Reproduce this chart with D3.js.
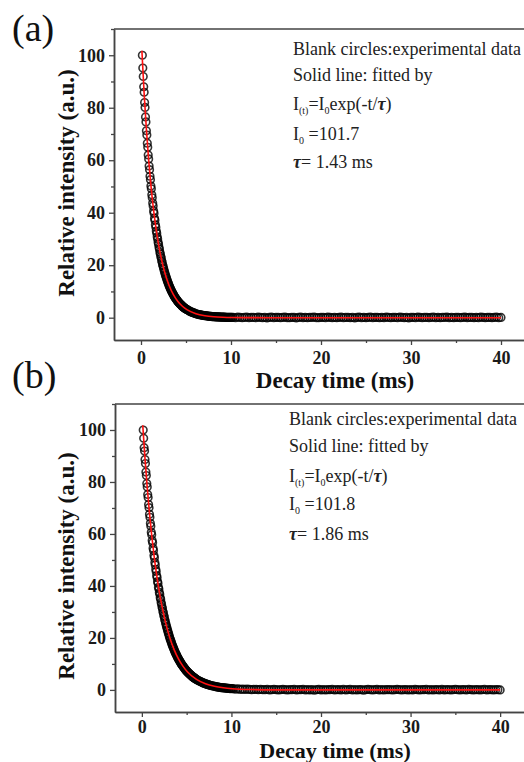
<!DOCTYPE html>
<html><head><meta charset="utf-8">
<script src="https://cdn.jsdelivr.net/npm/d3@7"></script>
<style>body{margin:0;background:#fff}svg{display:block}</style>
</head><body><svg id="c" width="524" height="762"></svg>
<script>
// ---------- data ----------
const xMajor = [0, 10, 20, 30, 40];
const xMinor = [5, 15, 25, 35];
const yMajor = [0, 20, 40, 60, 80, 100];
const yMinor = [10, 30, 50, 70, 90, 110];
const panelLabels = ["(a)", "(b)"];
const xTitle = "Decay time (ms)";
const yTitle = "Relative intensity (a.u.)";
const I0Values = ["101.7", "101.8"];
const tauValues = ["1.43", "1.86"];

// sampling of experimental points: start time and step of each segment
const segSteps = [0.05, 0.1, 0.25];
const segStartsA = [0.15, 5.2, 10.25];
const segStartsB = [0.15, 6.2, 10.25];

// (a) experimental data
const expA_fast = [
100.0,95.1,91.9,88.0,85.9,82.0,80.1,76.5,74.6,71.2,
69.6,66.5,64.9,62.0,60.5,57.8,56.4,53.9,52.6,50.2,
49.1,46.8,45.7,43.7,42.6,40.7,39.8,37.9,37.1,35.4,
34.5,33.0,32.2,30.8,30.0,28.7,28.0,26.8,26.1,24.9,
24.3,23.3,22.7,21.7,21.1,20.2,19.7,18.9,18.4,17.6,
17.1,16.4,16.0,15.3,14.9,14.3,13.9,13.3,13.0,12.4,
12.1,11.6,11.2,10.8,10.5,10.1,9.8,9.4,9.1,8.8,
8.5,8.2,7.9,7.6,7.4,7.1,6.9,6.6,6.4,6.2,
6.0,5.8,5.6,5.4,5.2,5.0,4.9,4.7,4.5,4.4,
4.2,4.1,3.9,3.8,3.7,3.5,3.4,3.3,3.2,3.1];
const expA_mid = [
2.9,2.7,2.5,2.3,2.2,2.0,1.9,1.8,1.6,1.5,
1.4,1.3,1.2,1.2,1.1,1.0,0.9,0.9,0.8,0.8,
0.7,0.7,0.6,0.6,0.5,0.5,0.5,0.4,0.4,0.4,
0.4,0.3,0.3,0.3,0.3,0.3,0.2,0.2,0.2,0.2,
0.2,0.2,0.1,0.1,0.1,0.1,0.1,0.1,0.1,0.1];
const expA_tail = [
0.1,0.0,0.2,0.1,0.0,0.1,0.2,0.0,0.1,0.1,
0.0,0.2,0.1,0.0,0.1,-0.1,0.1,0.2,0.0,0.1,
0.1,0.0,0.1,0.2,0.0,0.0,0.1,0.1,-0.1,0.1,
0.2,0.0,0.1,0.0,0.1,0.1,0.2,0.0,0.0,0.1,
0.1,0.0,0.2,0.1,0.0,0.1,0.0,0.1,0.2,0.0,
0.1,0.1,0.0,0.1,-0.1,0.1,0.2,0.0,0.1,0.0,
0.1,0.2,0.0,0.1,0.1,0.0,0.1,0.0,0.2,0.1,
0.0,0.1,0.1,0.0,0.2,0.1,0.0,0.1,-0.1,0.1,
0.1,0.0,0.2,0.1,0.0,0.1,0.1,0.0,0.1,0.2,
0.0,0.1,0.0,0.1,0.1,0.2,0.0,0.1,0.0,0.1,
0.1,0.0,0.1,0.2,0.0,0.1,0.1,0.0,0.1,0.0,
0.2,0.1,0.0,0.1,0.1,0.0,0.1,0.2,0.0,0.1];

// (b) experimental data
const expB_fast = [
100.0,96.8,93.2,91.9,88.6,87.1,83.8,82.5,79.4,78.1,
75.2,74.0,71.3,70.1,67.6,66.4,64.1,63.0,60.7,59.7,
57.5,56.6,54.5,53.6,51.7,50.8,49.0,48.1,46.4,45.6,
44.0,43.2,41.7,41.0,39.5,38.8,37.5,36.8,35.5,34.9,
33.6,33.0,31.9,31.3,30.2,29.7,28.6,28.1,27.1,26.6,
25.7,25.2,24.4,23.9,23.1,22.7,21.9,21.5,20.7,20.3,
19.6,19.3,18.6,18.3,17.6,17.3,16.7,16.4,15.8,15.5,
15.0,14.7,14.2,13.9,13.5,13.2,12.8,12.5,12.1,11.9,
11.5,11.2,10.9,10.7,10.3,10.1,9.8,9.6,9.3,9.1,
8.8,8.6,8.3,8.1,7.9,7.7,7.5,7.3,7.1,6.9,
6.7,6.6,6.4,6.2,6.0,5.9,5.7,5.6,5.4,5.3,
5.1,5.0,4.9,4.7,4.6,4.5,4.4,4.3,4.1,4.0];
const expB_mid = [
3.8,3.6,3.4,3.3,3.1,2.9,2.8,2.6,2.5,2.4,
2.2,2.1,2.0,1.9,1.8,1.7,1.6,1.5,1.5,1.4,
1.3,1.2,1.2,1.1,1.0,1.0,0.9,0.9,0.8,0.8,
0.8,0.7,0.7,0.6,0.6,0.6,0.5,0.5,0.5,0.5];
const expB_tail = [
0.4,0.3,0.4,0.2,0.3,0.2,0.3,0.2,0.1,0.2,
0.2,0.1,0.2,0.1,0.1,0.2,0.0,0.1,0.2,0.1,
0.0,0.1,0.2,0.1,0.0,0.1,0.1,0.2,0.0,0.1,
0.1,0.2,0.0,0.1,0.0,0.1,-0.1,0.1,0.2,0.0,
0.1,0.0,0.1,0.1,0.2,0.0,0.1,0.1,0.0,0.2,
0.0,0.1,0.2,0.0,0.1,0.0,0.1,0.1,-0.1,0.1,
0.2,0.1,0.0,0.1,0.2,0.0,0.1,0.0,0.1,0.1,
0.1,0.0,0.1,0.2,0.1,0.0,0.1,0.1,0.0,0.1,
0.0,0.2,0.1,0.0,0.1,0.1,0.2,0.0,0.1,0.0,
0.1,0.1,0.0,0.2,0.0,0.1,0.1,0.0,0.1,0.2,
0.1,0.0,0.1,0.1,0.0,0.2,0.1,0.0,0.1,0.1,
0.0,0.1,0.2,0.0,0.1,0.1,0.0,0.1,0.1,0.0];

// fitted curves
const fitTimes = [0.1,0.35,0.6,0.85,1.1,1.35,1.6,1.85,2.1,2.6,3.1,3.6,4.1,4.6,5.1,6.1,7.1,8.1,9.1,10.1,12.1,15,20,30,40];
const fitA = [101.7,85.38,71.69,60.19,50.53,42.43,35.62,29.91,25.11,17.70,12.48,8.80,6.20,4.37,3.08,1.53,0.76,0.38,0.19,0.09,0.02,0,0,0,0];
const fitB = [101.8,89.00,77.80,68.02,59.46,51.98,45.45,39.73,34.73,26.55,20.29,15.51,11.85,9.06,6.92,4.04,2.36,1.38,0.81,0.47,0.16,0.03,0,0,0];

// ---------- layout ----------
const layouts = [
  {left:114, right:528, top:29, bottom:340, lblY:41, xLblPad:6, xTitleY:388, xTitleSize:23, yTitleY:183,
   annX:293, annY:[55,81,110,140,168]},
  {left:115, right:527, top:404, bottom:712, lblY:388, xLblPad:3, xTitleY:758, xTitleSize:22, yTitleY:566,
   annX:289, annY:[425,452,482,510,540]}
];
const panelData = [
  {starts:segStartsA, segs:[expA_fast, expA_mid, expA_tail], fit:fitA},
  {starts:segStartsB, segs:[expB_fast, expB_mid, expB_tail], fit:fitB}
];

const svg = d3.select("#c");
const serif = "'Liberation Serif','Times New Roman',serif";
const axisCol = "#444";

layouts.forEach((L, pi) => {
  const P = panelData[pi];
  const x = d3.scaleLinear().domain([-3, 43]).range([L.left, L.right]);
  const y = d3.scaleLinear().domain([-8.5, 110]).range([L.bottom, L.top]);
  const g = svg.append("g");

  // frame (top + right)
  g.append("path").attr("d", `M${L.left},${L.top}H${L.right}V${L.bottom}`)
    .attr("fill","none").attr("stroke",axisCol).attr("stroke-width",1.5);

  // axes
  g.append("g").attr("transform",`translate(${L.left},0)`)
    .call(d3.axisLeft(y).tickValues(yMajor).tickSize(5).tickSizeOuter(0).tickPadding(4));
  g.append("g").attr("transform",`translate(${L.left},0)`)
    .call(d3.axisLeft(y).tickValues(yMinor).tickSize(3).tickSizeOuter(0).tickFormat(""));
  g.append("g").attr("transform",`translate(0,${L.bottom})`)
    .call(d3.axisBottom(x).tickValues(xMajor).tickSize(5).tickSizeOuter(0).tickPadding(L.xLblPad));
  g.append("g").attr("transform",`translate(0,${L.bottom})`)
    .call(d3.axisBottom(x).tickValues(xMinor).tickSize(3).tickSizeOuter(0).tickFormat(""));
  g.selectAll(".domain").attr("stroke",axisCol).attr("stroke-width",1.5);
  g.selectAll(".tick line").attr("stroke",axisCol).attr("stroke-width",1.3);
  g.selectAll(".tick text").attr("font-family",serif).attr("font-weight","bold")
    .attr("font-size",18).attr("fill","#1a1a1a");

  // experimental circles
  const pts = [];
  P.segs.forEach((vals, si) => vals.forEach((v,i) => pts.push({t:P.starts[si] + i*segSteps[si], v})));
  g.append("g").selectAll("circle").data(pts).join("circle")
    .attr("cx", d => x(d.t)).attr("cy", d => y(d.v)).attr("r", 3.8)
    .attr("fill","none").attr("stroke","#000").attr("stroke-opacity",0.8).attr("stroke-width",1.6);

  // fit line
  const fitPts = fitTimes.map((t,i)=>({t, v:P.fit[i]}));
  g.append("path").datum(fitPts)
    .attr("d", d3.line().x(d=>x(d.t)).y(d=>y(d.v)).curve(d3.curveMonotoneX))
    .attr("fill","none").attr("stroke","#ff1010").attr("stroke-width",1.6);

  // panel label
  svg.append("text").attr("x",12).attr("y",L.lblY).attr("font-family",serif)
    .attr("font-size",38).attr("fill","#111").text(panelLabels[pi]);

  // axis titles
  svg.append("text").attr("x",335).attr("y",L.xTitleY).attr("text-anchor","middle")
    .attr("font-family",serif).attr("font-weight","bold").attr("font-size",L.xTitleSize).attr("fill","#111").text(xTitle);
  svg.append("text").attr("transform",`translate(74,${L.yTitleY}) rotate(-90)`).attr("text-anchor","middle")
    .attr("font-family",serif).attr("font-weight","bold").attr("font-size",23).attr("fill","#111").text(yTitle);

  // annotation
  const fs = 18, sub = 10;
  const ann = svg.append("g").attr("font-family",serif).attr("font-size",fs).attr("fill","#222");
  ann.append("text").attr("x",L.annX).attr("y",L.annY[0]).text("Blank circles:experimental data");
  ann.append("text").attr("x",L.annX).attr("y",L.annY[1]).text("Solid line: fitted by");
  const t3 = ann.append("text").attr("x",L.annX).attr("y",L.annY[2]);
  t3.append("tspan").text("I");
  t3.append("tspan").attr("font-size",sub).attr("dy",4).text("(t)");
  t3.append("tspan").attr("dy",-4).text("=I");
  t3.append("tspan").attr("font-size",sub).attr("dy",4).text("0");
  t3.append("tspan").attr("dy",-4).text("exp(-t/");
  t3.append("tspan").attr("font-weight","bold").attr("font-style","italic").text("τ");
  t3.append("tspan").text(")");
  const t4 = ann.append("text").attr("x",L.annX).attr("y",L.annY[3]);
  t4.append("tspan").text("I");
  t4.append("tspan").attr("font-size",sub).attr("dy",4).text("0");
  t4.append("tspan").attr("dy",-4).text(" =" + I0Values[pi]);
  const t5 = ann.append("text").attr("x",L.annX).attr("y",L.annY[4]);
  t5.append("tspan").attr("font-weight","bold").attr("font-style","italic").text("τ");
  t5.append("tspan").text("= " + tauValues[pi] + " ms");
});
</script>
</body></html>
